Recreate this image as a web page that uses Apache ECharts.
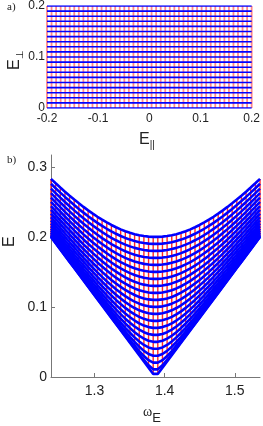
<!DOCTYPE html>
<html><head><meta charset="utf-8">
<script src="https://cdn.jsdelivr.net/npm/echarts@6/dist/echarts.min.js"></script>
<style>html,body{margin:0;padding:0;background:#fff}#c{width:263px;height:426px}</style>
</head><body><div id="c"></div>
<script>
// Grid values in the (E_parallel, E_perp) plane (panel a)
const eParallel = [-0.2,-0.1911,-0.1822,-0.1733,-0.1644,-0.1556,-0.1467,-0.1378,-0.1289,-0.12,
  -0.1111,-0.1022,-0.0933,-0.0844,-0.0756,-0.0667,-0.0578,-0.0489,-0.04,-0.0311,-0.0222,-0.0133,-0.0044,
  0.0044,0.0133,0.0222,0.0311,0.04,0.0489,0.0578,0.0667,0.0756,0.0844,0.0933,0.1022,0.1111,
  0.12,0.1289,0.1378,0.1467,0.1556,0.1644,0.1733,0.1822,0.1911,0.2];
const ePerp = [0,0.01,0.02,0.03,0.04,0.05,0.06,0.07,0.08,0.09,0.1,0.11,0.12,0.13,0.14,0.15,0.16,0.17,0.18,0.19,0.2];
// mapping to panel b: omega_E = omega0 + slope*E_par, E = |(E_par, E_perp)|
const omega0 = 1.387;
const slope = 0.745;
const ticksA_x = [-0.2,-0.1,0,0.1,0.2];
const ticksA_y = [0,0.1,0.2];
const ticksB_x = [1.3,1.4,1.5];
const ticksB_y = [0,0.1,0.2,0.3];

const ePerpMax = ePerp[ePerp.length-1];
const ePerpMin = ePerp[0];
const parMin = eParallel[0], parMax = eParallel[eParallel.length-1];

const series = [];
const RED_A = 'rgba(255,40,40,0.55)';
const BLUE = '#0000ff';
// panel a red verticals
eParallel.forEach(p => series.push({type:'line', xAxisIndex:0, yAxisIndex:0, symbol:'none', silent:true,
  lineStyle:{color:RED_A, width:1.8}, data:[[p,ePerpMin],[p,ePerpMax]]}));
// panel a blue horizontals
ePerp.forEach(q => series.push({type:'line', xAxisIndex:0, yAxisIndex:0, symbol:'none', silent:true,
  lineStyle:{color:BLUE, width:1.6}, data:[[parMin,q],[parMax,q]]}));
// panel b red verticals
eParallel.forEach(p => series.push({type:'line', xAxisIndex:1, yAxisIndex:1, symbol:'none', silent:true,
  lineStyle:{color:'rgba(255,0,0,0.85)', width:1.4},
  data:[[omega0+slope*p, Math.hypot(p,ePerpMin)],[omega0+slope*p, Math.hypot(p,ePerpMax)]]}));
// panel b blue curves
ePerp.forEach(q => series.push({type:'line', xAxisIndex:1, yAxisIndex:1, symbol:'none', silent:true,
  lineStyle:{color:BLUE, width:2.6},
  data:eParallel.map(p => [omega0+slope*p, Math.hypot(p,q)])}));

const txt = '#222';
const lab = {color:txt, fontFamily:'Liberation Sans', fontSize:12};
const labB = {color:txt, fontFamily:'Liberation Sans', fontSize:14};
const chart = echarts.init(document.getElementById('c'), null, {renderer:'canvas'});
chart.setOption({
  animation:false,
  grid:[
    {left:47, top:6, width:206, height:102},
    {left:51, top:155, width:209, height:222}
  ],
  xAxis:[
    {type:'value', gridIndex:0, min:parMin, max:parMax, splitLine:{show:false},
     axisLine:{show:false}, axisTick:{show:false},
     axisLabel:Object.assign({customValues:ticksA_x, margin:5}, lab)},
    {type:'value', gridIndex:1, min:omega0+slope*parMin, max:omega0+slope*parMax, splitLine:{show:false},
     axisLine:{lineStyle:{color:'#777', width:1}},
     axisTick:{inside:true, length:4, customValues:ticksB_x, lineStyle:{color:'#777'}},
     axisLabel:Object.assign({customValues:ticksB_x, margin:7}, labB)}
  ],
  yAxis:[
    {type:'value', gridIndex:0, min:0, max:0.2, splitLine:{show:false},
     axisLine:{show:false}, axisTick:{show:false},
     axisLabel:Object.assign({customValues:ticksA_y, margin:2}, lab)},
    {type:'value', gridIndex:1, min:0, max:0.317, splitLine:{show:false},
     axisLine:{show:true, lineStyle:{color:'#777', width:1}},
     axisTick:{show:true, inside:true, length:4, customValues:ticksB_y, lineStyle:{color:'#777'}},
     axisLabel:Object.assign({customValues:ticksB_y, margin:4}, labB)}
  ],
  series: series,
  graphic:[
    {type:'text', left:7, top:2, style:{text:'a)', font:'11px "Liberation Serif"', fill:txt}},
    {type:'text', left:7, top:155, style:{text:'b)', font:'11px "Liberation Serif"', fill:txt}},
    {type:'text', x:5, y:70, rotation:Math.PI/2, style:{text:'{e|E}{s|⊥}', fill:txt,
      rich:{e:{fontFamily:'Liberation Sans', fontSize:16, fill:txt, lineHeight:18},
            s:{fontFamily:'Liberation Sans', fontSize:10, fill:txt, padding:[10,0,0,0]}}}},
    {type:'text', x:139, y:130, style:{text:'{e|E}{s|||}', fill:txt,
      rich:{e:{fontFamily:'Liberation Sans', fontSize:16, fill:txt, lineHeight:18},
            s:{fontFamily:'Liberation Sans', fontSize:10, fill:txt, padding:[10,0,0,0]}}}},
    {type:'text', x:2, y:247, rotation:Math.PI/2, style:{text:'E', font:'16px "Liberation Sans"', fill:txt}},
    {type:'text', x:143, y:400, style:{text:'{w|ω}{s|E}', fill:txt,
      rich:{w:{fontFamily:'Liberation Serif', fontSize:14, fill:txt, lineHeight:16},
            s:{fontFamily:'Liberation Sans', fontSize:13, fill:txt, padding:[12,0,0,0]}}}}
  ]
});
</script></body></html>
